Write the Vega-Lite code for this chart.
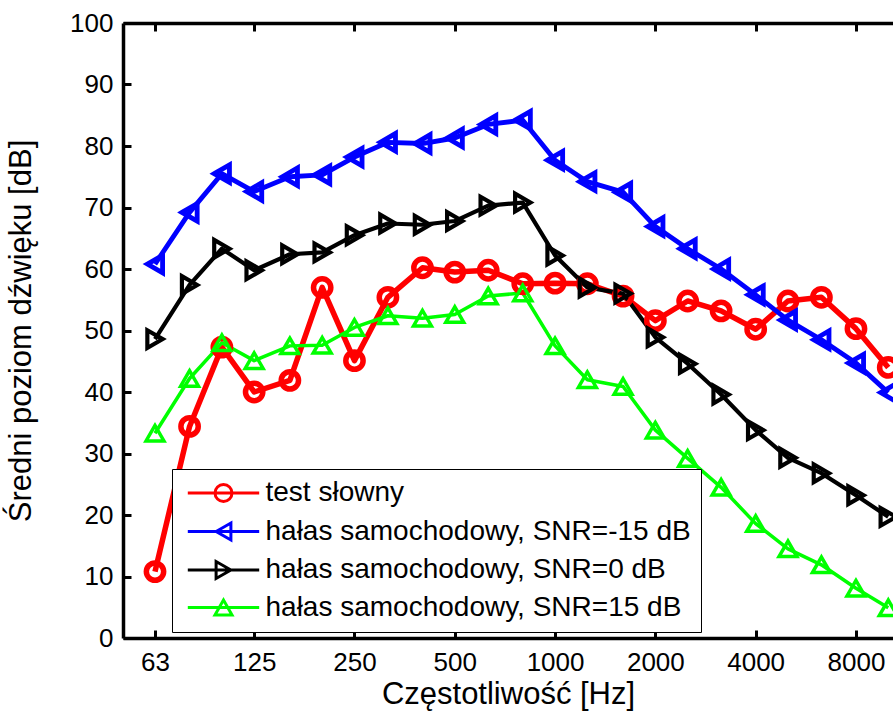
{
  "$schema": "https://vega.github.io/schema/vega-lite/v6.json",
  "width": 770,
  "height": 615,
  "autosize": "none",
  "padding": {"left": 123, "top": 23, "right": 0, "bottom": 86},
  "background": "white",
  "config": {
    "view": {"stroke": null},
    "font": "Liberation Sans",
    "axis": {
      "grid": false,
      "domainColor": "black",
      "domainWidth": 3.5,
      "tickColor": "black",
      "tickWidth": 3,
      "tickSize": -8,
      "labelColor": "black",
      "labelFont": "Liberation Sans",
      "labelFontSize": 26,
      "titleFont": "Liberation Sans",
      "titleFontSize": 31,
      "titleFontWeight": "normal",
      "titleColor": "black"
    }
  },
  "data": {
    "values": [
      {"f": 63, "v": 10.8, "s": "test słowny"},
      {"f": 80, "v": 34.4, "s": "test słowny"},
      {"f": 100, "v": 47.3, "s": "test słowny"},
      {"f": 125, "v": 40.0, "s": "test słowny"},
      {"f": 160, "v": 41.9, "s": "test słowny"},
      {"f": 200, "v": 57.0, "s": "test słowny"},
      {"f": 250, "v": 45.1, "s": "test słowny"},
      {"f": 315, "v": 55.4, "s": "test słowny"},
      {"f": 400, "v": 60.2, "s": "test słowny"},
      {"f": 500, "v": 59.5, "s": "test słowny"},
      {"f": 630, "v": 59.8, "s": "test słowny"},
      {"f": 800, "v": 57.6, "s": "test słowny"},
      {"f": 1000, "v": 57.7, "s": "test słowny"},
      {"f": 1250, "v": 57.6, "s": "test słowny"},
      {"f": 1600, "v": 55.6, "s": "test słowny"},
      {"f": 2000, "v": 51.6, "s": "test słowny"},
      {"f": 2500, "v": 54.8, "s": "test słowny"},
      {"f": 3150, "v": 53.2, "s": "test słowny"},
      {"f": 4000, "v": 50.2, "s": "test słowny"},
      {"f": 5000, "v": 54.8, "s": "test słowny"},
      {"f": 6300, "v": 55.4, "s": "test słowny"},
      {"f": 8000, "v": 50.3, "s": "test słowny"},
      {"f": 10000, "v": 44.0, "s": "test słowny"},
      {"f": 63, "v": 60.8, "s": "hałas samochodowy, SNR=-15 dB"},
      {"f": 80, "v": 69.2, "s": "hałas samochodowy, SNR=-15 dB"},
      {"f": 100, "v": 75.5, "s": "hałas samochodowy, SNR=-15 dB"},
      {"f": 125, "v": 72.6, "s": "hałas samochodowy, SNR=-15 dB"},
      {"f": 160, "v": 75.0, "s": "hałas samochodowy, SNR=-15 dB"},
      {"f": 200, "v": 75.3, "s": "hałas samochodowy, SNR=-15 dB"},
      {"f": 250, "v": 78.2, "s": "hałas samochodowy, SNR=-15 dB"},
      {"f": 315, "v": 80.6, "s": "hałas samochodowy, SNR=-15 dB"},
      {"f": 400, "v": 80.4, "s": "hałas samochodowy, SNR=-15 dB"},
      {"f": 500, "v": 81.3, "s": "hałas samochodowy, SNR=-15 dB"},
      {"f": 630, "v": 83.5, "s": "hałas samochodowy, SNR=-15 dB"},
      {"f": 800, "v": 84.2, "s": "hałas samochodowy, SNR=-15 dB"},
      {"f": 1000, "v": 77.7, "s": "hałas samochodowy, SNR=-15 dB"},
      {"f": 1250, "v": 74.2, "s": "hałas samochodowy, SNR=-15 dB"},
      {"f": 1600, "v": 72.5, "s": "hałas samochodowy, SNR=-15 dB"},
      {"f": 2000, "v": 66.9, "s": "hałas samochodowy, SNR=-15 dB"},
      {"f": 2500, "v": 63.3, "s": "hałas samochodowy, SNR=-15 dB"},
      {"f": 3150, "v": 60.0, "s": "hałas samochodowy, SNR=-15 dB"},
      {"f": 4000, "v": 55.8, "s": "hałas samochodowy, SNR=-15 dB"},
      {"f": 5000, "v": 51.7, "s": "hałas samochodowy, SNR=-15 dB"},
      {"f": 6300, "v": 48.5, "s": "hałas samochodowy, SNR=-15 dB"},
      {"f": 8000, "v": 44.7, "s": "hałas samochodowy, SNR=-15 dB"},
      {"f": 10000, "v": 39.9, "s": "hałas samochodowy, SNR=-15 dB"},
      {"f": 63, "v": 48.6, "s": "hałas samochodowy, SNR=0 dB"},
      {"f": 80, "v": 57.4, "s": "hałas samochodowy, SNR=0 dB"},
      {"f": 100, "v": 63.3, "s": "hałas samochodowy, SNR=0 dB"},
      {"f": 125, "v": 59.8, "s": "hałas samochodowy, SNR=0 dB"},
      {"f": 160, "v": 62.4, "s": "hałas samochodowy, SNR=0 dB"},
      {"f": 200, "v": 62.7, "s": "hałas samochodowy, SNR=0 dB"},
      {"f": 250, "v": 65.5, "s": "hałas samochodowy, SNR=0 dB"},
      {"f": 315, "v": 67.4, "s": "hałas samochodowy, SNR=0 dB"},
      {"f": 400, "v": 67.2, "s": "hałas samochodowy, SNR=0 dB"},
      {"f": 500, "v": 67.8, "s": "hałas samochodowy, SNR=0 dB"},
      {"f": 630, "v": 70.3, "s": "hałas samochodowy, SNR=0 dB"},
      {"f": 800, "v": 70.8, "s": "hałas samochodowy, SNR=0 dB"},
      {"f": 1000, "v": 62.2, "s": "hałas samochodowy, SNR=0 dB"},
      {"f": 1250, "v": 57.0, "s": "hałas samochodowy, SNR=0 dB"},
      {"f": 1600, "v": 56.0, "s": "hałas samochodowy, SNR=0 dB"},
      {"f": 2000, "v": 48.9, "s": "hałas samochodowy, SNR=0 dB"},
      {"f": 2500, "v": 44.6, "s": "hałas samochodowy, SNR=0 dB"},
      {"f": 3150, "v": 39.6, "s": "hałas samochodowy, SNR=0 dB"},
      {"f": 4000, "v": 33.8, "s": "hałas samochodowy, SNR=0 dB"},
      {"f": 5000, "v": 29.3, "s": "hałas samochodowy, SNR=0 dB"},
      {"f": 6300, "v": 26.8, "s": "hałas samochodowy, SNR=0 dB"},
      {"f": 8000, "v": 23.2, "s": "hałas samochodowy, SNR=0 dB"},
      {"f": 10000, "v": 19.7, "s": "hałas samochodowy, SNR=0 dB"},
      {"f": 63, "v": 33.3, "s": "hałas samochodowy, SNR=15 dB"},
      {"f": 80, "v": 42.2, "s": "hałas samochodowy, SNR=15 dB"},
      {"f": 100, "v": 48.0, "s": "hałas samochodowy, SNR=15 dB"},
      {"f": 125, "v": 45.1, "s": "hałas samochodowy, SNR=15 dB"},
      {"f": 160, "v": 47.5, "s": "hałas samochodowy, SNR=15 dB"},
      {"f": 200, "v": 47.6, "s": "hałas samochodowy, SNR=15 dB"},
      {"f": 250, "v": 50.5, "s": "hałas samochodowy, SNR=15 dB"},
      {"f": 315, "v": 52.4, "s": "hałas samochodowy, SNR=15 dB"},
      {"f": 400, "v": 52.0, "s": "hałas samochodowy, SNR=15 dB"},
      {"f": 500, "v": 52.6, "s": "hałas samochodowy, SNR=15 dB"},
      {"f": 630, "v": 55.6, "s": "hałas samochodowy, SNR=15 dB"},
      {"f": 800, "v": 56.1, "s": "hałas samochodowy, SNR=15 dB"},
      {"f": 1000, "v": 47.5, "s": "hałas samochodowy, SNR=15 dB"},
      {"f": 1250, "v": 42.0, "s": "hałas samochodowy, SNR=15 dB"},
      {"f": 1600, "v": 40.9, "s": "hałas samochodowy, SNR=15 dB"},
      {"f": 2000, "v": 33.8, "s": "hałas samochodowy, SNR=15 dB"},
      {"f": 2500, "v": 29.2, "s": "hałas samochodowy, SNR=15 dB"},
      {"f": 3150, "v": 24.5, "s": "hałas samochodowy, SNR=15 dB"},
      {"f": 4000, "v": 18.6, "s": "hałas samochodowy, SNR=15 dB"},
      {"f": 5000, "v": 14.5, "s": "hałas samochodowy, SNR=15 dB"},
      {"f": 6300, "v": 11.9, "s": "hałas samochodowy, SNR=15 dB"},
      {"f": 8000, "v": 8.1, "s": "hałas samochodowy, SNR=15 dB"},
      {"f": 10000, "v": 4.9, "s": "hałas samochodowy, SNR=15 dB"}
    ]
  },
  "layer": [
    {
      "mark": {"type": "line", "strokeJoin": "round"},
      "encoding": {
        "x": {
          "field": "f", "type": "quantitative",
          "scale": {"type": "log", "domain": [50.5, 10333], "nice": false},
          "axis": {
            "orient": "bottom",
            "values": [63, 125, 250, 500, 1000, 2000, 4000, 8000],
            "format": "d",
            "labelPadding": 19,
            "title": "Częstotliwość [Hz]",
            "titlePadding": 4
          }
        },
        "y": {
          "field": "v", "type": "quantitative",
          "scale": {"domain": [0, 100], "nice": false},
          "axis": {
            "values": [0, 10, 20, 30, 40, 50, 60, 70, 80, 90, 100],
            "labelPadding": 18,
            "title": "Średni poziom dźwięku [dB]",
            "titlePadding": 32
          }
        },
        "color": {
          "field": "s", "type": "nominal",
          "scale": {
            "domain": ["test słowny", "hałas samochodowy, SNR=-15 dB", "hałas samochodowy, SNR=0 dB", "hałas samochodowy, SNR=15 dB"],
            "range": ["#ff0000", "#0000ff", "#000000", "#00ff00"]
          },
          "legend": null
        },
        "strokeWidth": {
          "field": "s", "type": "nominal",
          "scale": {
            "domain": ["test słowny", "hałas samochodowy, SNR=-15 dB", "hałas samochodowy, SNR=0 dB", "hałas samochodowy, SNR=15 dB"],
            "range": [5.5, 3.5, 3.5, 3.5]
          },
          "legend": null
        }
      }
    },
    {
      "mark": {"type": "point", "filled": false, "opacity": 1},
      "encoding": {
        "x": {
          "field": "f", "type": "quantitative",
          "scale": {"type": "log", "domain": [50.5, 10333], "nice": false},
          "axis": {
            "orient": "top",
            "values": [63, 125, 250, 500, 1000, 2000, 4000, 8000],
            "labels": false,
            "title": null
          }
        },
        "y": {"field": "v", "type": "quantitative"},
        "color": {
          "field": "s", "type": "nominal",
          "scale": {
            "domain": ["test słowny", "hałas samochodowy, SNR=-15 dB", "hałas samochodowy, SNR=0 dB", "hałas samochodowy, SNR=15 dB"],
            "range": ["#ff0000", "#0000ff", "#000000", "#00ff00"]
          },
          "legend": null
        },
        "shape": {
          "field": "s", "type": "nominal",
          "scale": {
            "domain": ["test słowny", "hałas samochodowy, SNR=-15 dB", "hałas samochodowy, SNR=0 dB", "hałas samochodowy, SNR=15 dB"],
            "range": ["circle", "triangle-left", "triangle-right", "triangle-up"]
          },
          "legend": null
        },
        "size": {
          "field": "s", "type": "nominal",
          "scale": {
            "domain": ["test słowny", "hałas samochodowy, SNR=-15 dB", "hałas samochodowy, SNR=0 dB", "hałas samochodowy, SNR=15 dB"],
            "range": [300, 320, 320, 320]
          },
          "legend": null
        },
        "strokeWidth": {
          "field": "s", "type": "nominal",
          "legend": null
        }
      }
    },
    {
      "mark": {"type": "point", "filled": false, "opacity": 0, "strokeWidth": 3, "size": 289},
      "encoding": {
        "x": {"field": "f", "type": "quantitative", "axis": null},
        "y": {"field": "v", "type": "quantitative"},
        "color": {
          "field": "s", "type": "nominal",
          "scale": {
            "domain": ["test słowny", "hałas samochodowy, SNR=-15 dB", "hałas samochodowy, SNR=0 dB", "hałas samochodowy, SNR=15 dB"],
            "range": ["#ff0000", "#0000ff", "#000000", "#00ff00"]
          },
          "legend": {
            "title": null,
            "orient": "none",
            "legendX": 49,
            "legendY": 446,
            "padding": 10,
            "fillColor": "white",
            "strokeColor": "black",
            "labelFont": "Liberation Sans",
            "labelFontSize": 28,
            "labelColor": "black",
            "labelLimit": 0,
            "symbolSize": 289,
            "symbolOffset": 27.5,
            "labelOffset": 28,
            "rowPadding": 8.5,
            "symbolStrokeWidth": 3,
            "symbolOpacity": 1,
            "symbolFillColor": "transparent"
          }
        },
        "shape": {
          "field": "s", "type": "nominal",
          "scale": {
            "domain": ["test słowny", "hałas samochodowy, SNR=-15 dB", "hałas samochodowy, SNR=0 dB", "hałas samochodowy, SNR=15 dB"],
            "range": [
              "M-4.2,0L4.2,0M1,0A1,1,0,1,1,-1,0A1,1,0,1,1,1,0",
              "M-4.2,0L4.2,0M-0.87,0L0.87,-1L0.87,1Z",
              "M-4.2,0L4.2,0M0.87,0L-0.87,-1L-0.87,1Z",
              "M-4.2,0L4.2,0M0,-0.87L-1,0.87L1,0.87Z"
            ]
          },
          "legend": {
            "title": null,
            "orient": "none",
            "legendX": 49,
            "legendY": 446,
            "padding": 10,
            "fillColor": "white",
            "strokeColor": "black",
            "labelFont": "Liberation Sans",
            "labelFontSize": 28,
            "labelColor": "black",
            "labelLimit": 0,
            "symbolSize": 289,
            "symbolOffset": 27.5,
            "labelOffset": 28,
            "rowPadding": 8.5,
            "symbolStrokeWidth": 3,
            "symbolOpacity": 1,
            "symbolFillColor": "transparent"
          }
        }
      }
    }
  ],
  "resolve": {
    "axis": {"x": "independent"},
    "scale": {"color": "independent", "shape": "independent"}
  }
}
